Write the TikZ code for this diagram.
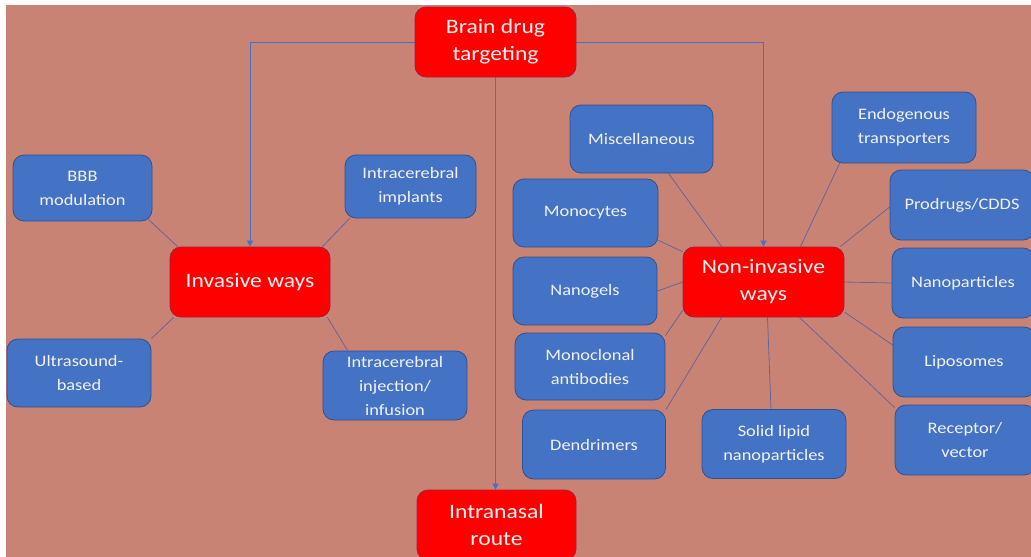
\documentclass[tikz,border=0pt]{standalone}
\usepackage{fontspec}
\setmainfont{Carlito}[FakeStretch=1.15]
\usetikzlibrary{arrows.meta,backgrounds}
\definecolor{bgsalmon}{RGB}{201,131,117}
\definecolor{boxblue}{RGB}{68,114,196}
\definecolor{boxblueedge}{RGB}{47,82,143}
\definecolor{boxred}{RGB}{255,0,0}
\definecolor{boxrededge}{RGB}{160,32,64}
\definecolor{spoke}{RGB}{105,100,150}
\definecolor{txt}{RGB}{242,242,242}
\tikzset{
  redbox/.style={draw=boxrededge, fill=boxred, line width=0.8pt, rounded corners=11pt,
    text=txt, align=center, inner sep=0pt, font=\fontsize{20.5}{27}\selectfont},
  bluebox/.style={draw=boxblueedge, fill=boxblue, line width=0.8pt, rounded corners=11pt,
    text=txt, align=center, inner sep=0pt, font=\fontsize{16}{24}\selectfont},
  spokeline/.style={draw=spoke, line width=0.8pt},
  mainarrow/.style={draw=boxblue, line width=0.9pt, -{Triangle[length=6pt,width=6pt]}}
}
\begin{document}
\begin{tikzpicture}[x=1pt,y=-1pt]
\useasboundingbox (0,0) rectangle (1031,557);
\clip (0,0) rectangle (1031,557);
% red nodes
\node[redbox, minimum width=161pt, minimum height=70pt] (brain) at (495.5,42) {Brain drug\\targeting};
\node[redbox, minimum width=160pt, minimum height=70pt] (inv) at (250,282) {Invasive ways};
\node[redbox, minimum width=161pt, minimum height=70pt] (noninv) at (763.5,282) {Non-invasive\\ways};
\node[redbox, minimum width=159pt, minimum height=70pt] (intra) at (496.5,525) {Intranasal\\route};
% invasive children
\node[bluebox, minimum width=139pt, minimum height=66pt] (bbb) at (82.5,188) {BBB\\modulation};
\node[bluebox, minimum width=131pt, minimum height=63pt] (impl) at (410.5,186.5) {Intracerebral\\implants};
\node[bluebox, minimum width=144pt, minimum height=68pt] (ultra) at (79,373) {Ultrasound-\\based};
\node[bluebox, minimum width=144pt, minimum height=69pt] (inj) at (395,385.5) {Intracerebral\\injection/\\infusion};
% non-invasive children
\node[bluebox, minimum width=143pt, minimum height=68pt] (misc) at (641.5,139) {Miscellaneous};
\node[bluebox, minimum width=144pt, minimum height=71pt] (endo) at (904,127.5) {Endogenous\\transporters};
\node[bluebox, minimum width=145pt, minimum height=68pt] (mono) at (585.5,213) {Monocytes};
\node[bluebox, minimum width=144pt, minimum height=70pt] (prod) at (962,205) {Prodrugs/CDDS};
\node[bluebox, minimum width=144pt, minimum height=68pt] (nanog) at (585,291) {Nanogels};
\node[bluebox, minimum width=142pt, minimum height=70pt] (nanop) at (963,283) {Nanoparticles};
\node[bluebox, minimum width=150pt, minimum height=67pt] (mab) at (590,366.5) {Monoclonal\\antibodies};
\node[bluebox, minimum width=142pt, minimum height=70pt] (lipo) at (964,362) {Liposomes};
\node[bluebox, minimum width=143pt, minimum height=69pt] (dend) at (594,444.5) {Dendrimers};
\node[bluebox, minimum width=144pt, minimum height=69pt] (sln) at (774,444) {Solid lipid\\nanoparticles};
\node[bluebox, minimum width=140pt, minimum height=70pt] (rec) at (965,440) {Receptor/\\vector};
\begin{scope}[on background layer]
  \fill[white] (0,0) rectangle (1031,557);
  \fill[bgsalmon] (6,5) rectangle (1031,557);
  % main arrows
  \draw[mainarrow] (brain.west) -| (inv.north);
  \draw[mainarrow] (brain.east) -| (noninv.north);
  \draw[mainarrow] (brain.south) -- (brain.south |- intra.north);
  % invasive spokes
  \draw[spokeline] ([xshift=8pt]inv.north west) -- ([xshift=-4pt,yshift=2pt]bbb.south east);
  \draw[spokeline] ([xshift=-8pt]inv.north east) -- ([xshift=5pt]impl.south west);
  \draw[spokeline] ([xshift=4pt]inv.south west) -- (ultra.north east);
  \draw[spokeline] ([xshift=-3pt]inv.south east) -- ([xshift=25pt]inj.north west);
  % non-invasive spokes
  \draw[spokeline] ([xshift=39pt]noninv.north west) -- ([xshift=27pt]misc.south);
  \draw[spokeline] ([xshift=37pt]noninv.north) -- ([xshift=8pt]endo.south west);
  \draw[spokeline] ([xshift=-4pt]noninv.north east) -- ([yshift=-2pt]prod.west);
  \draw[spokeline] (noninv.east) -- (nanop.west);
  \draw[spokeline] ([yshift=-30pt]noninv.east) -- ([yshift=17pt]lipo.west);
  \draw[spokeline] ([xshift=36pt]noninv.south) -- ([yshift=-3pt]rec.north west);
  \draw[spokeline] ([xshift=4pt]noninv.south) -- ([xshift=-3pt]sln.north);
  \draw[spokeline] ([xshift=39pt]noninv.south west) -- (dend.north east);
  \draw[spokeline] ([yshift=7pt]noninv.south west) -- ([yshift=-3pt]mab.north east);
  \draw[spokeline] (noninv.west) -- (nanog.east);
  \draw[spokeline] ([yshift=-5pt]noninv.north west) -- ([yshift=7pt]mono.south east);
\end{scope}
\end{tikzpicture}
\end{document}
